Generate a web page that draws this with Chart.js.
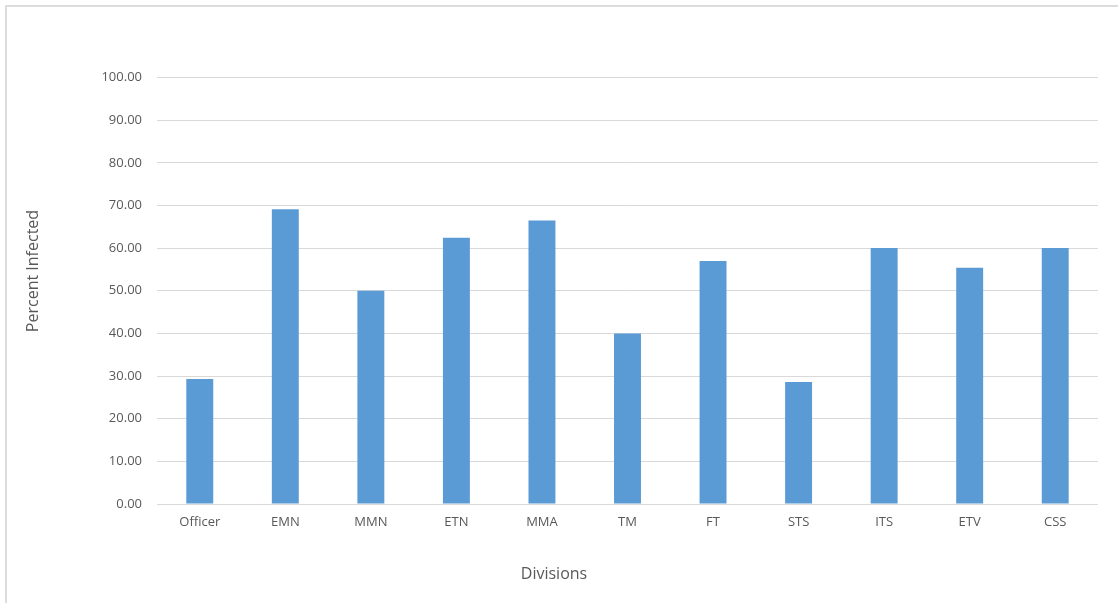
<!DOCTYPE html>
<html>
<head>
<meta charset="utf-8">
<script src="https://cdn.jsdelivr.net/npm/chart.js@4/dist/chart.umd.min.js"></script>
<style>
  html, body { margin: 0; padding: 0; background: #ffffff; }
  #wrap { position: relative; width: 1118px; height: 603px; overflow: hidden; }
  #frame { position: absolute; left: 5px; top: 5px; width: 1120px; height: 610px; border-left: 2px solid #dcdcdc; border-top: 2px solid #dcdcdc; box-sizing: border-box; pointer-events: none; }
  canvas { position: absolute; left: 0; top: 0; }
</style>
</head>
<body>
<div id="wrap">
  <canvas id="chart" width="1118" height="603"></canvas>
  <div id="frame"></div>
</div>
<script>
// Share of each division that was infected (percent)
const divisions = ['Officer', 'EMN', 'MMN', 'ETN', 'MMA', 'TM', 'FT', 'STS', 'ITS', 'ETV', 'CSS'];
const percentInfected = [29.3, 69.1, 50.0, 62.4, 66.5, 40.0, 57.0, 28.6, 60.0, 55.4, 60.0];
const yTicks = { min: 0, max: 100, step: 10 };
const xAxisTitle = 'Divisions';
const yAxisTitle = 'Percent Infected';

const labelFont = { family: 'Open Sans', size: 13 };
const titleFontCss = '16px "Open Sans"';
const textColor = '#595959';
const gridColor = '#d9d9d9';

// Axis titles are centred on the whole chart frame rather than on the plot area
const axisTitles = {
  id: 'axisTitles',
  afterDraw(chart) {
    const ctx = chart.ctx;
    ctx.save();
    ctx.font = titleFontCss;
    ctx.fillStyle = textColor;
    ctx.textAlign = 'center';
    ctx.textBaseline = 'middle';
    ctx.fillText(xAxisTitle, 554, 574);
    ctx.translate(33, 271);
    ctx.rotate(-Math.PI / 2);
    ctx.fillText(yAxisTitle, 0, 0);
    ctx.restore();
  }
};

new Chart(document.getElementById('chart'), {
  type: 'bar',
  data: {
    labels: divisions,
    datasets: [{
      data: percentInfected,
      backgroundColor: '#5b9bd5',
      borderWidth: 0,
      barPercentage: 0.63,
      categoryPercentage: 0.5
    }]
  },
  options: {
    responsive: false,
    animation: false,
    layout: { padding: { left: 18, right: 20, top: 77.5, bottom: 12 } },
    plugins: { legend: { display: false }, tooltip: { enabled: false } },
    scales: {
      x: {
        grid: { display: false, drawTicks: false },
        border: { display: false },
        ticks: { color: textColor, font: labelFont, padding: 10, maxRotation: 0, autoSkip: false },
        afterFit: (s) => { s.height = 87; }
      },
      y: {
        min: yTicks.min,
        max: yTicks.max,
        grid: { color: gridColor, lineWidth: 1, drawTicks: false },
        border: { display: false },
        ticks: {
          stepSize: yTicks.step,
          color: textColor,
          font: labelFont,
          padding: 15,
          callback: (v) => Number(v).toFixed(2)
        },
        afterFit: (s) => { s.width = 139; }
      }
    }
  },
  plugins: [axisTitles]
});
</script>
</body>
</html>
